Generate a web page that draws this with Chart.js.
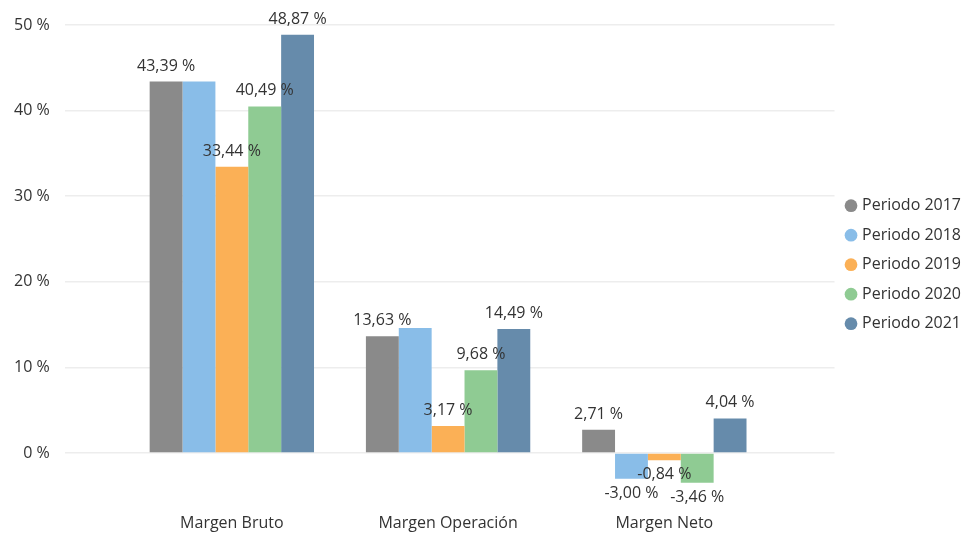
<!DOCTYPE html>
<html>
<head>
<meta charset="utf-8">
<script src="https://cdn.jsdelivr.net/npm/chart.js@4.4.1/dist/chart.umd.min.js"></script>
<style>
  html, body { margin: 0; padding: 0; background: #fff; }
  #wrap { width: 965px; height: 533px; }
</style>
</head>
<body>
<div id="wrap"><canvas id="myChart"></canvas></div>
<script>
const categories = ["Margen Bruto", "Margen Operación", "Margen Neto"];
const periods = ["Periodo 2017", "Periodo 2018", "Periodo 2019", "Periodo 2020", "Periodo 2021"];

const p2017 = [43.39, 13.63, 2.71];
const p2018 = [43.4, 14.6, -3.00];
const p2019 = [33.44, 3.17, -0.84];
const p2020 = [40.49, 9.68, -3.46];
const p2021 = [48.87, 14.49, 4.04];

const yTicks = [0, 10, 20, 30, 40, 50];

const colors = ["#8a8a8a", "#89bde8", "#fbb056", "#8fcb93", "#668bab"];
const series = [p2017, p2018, p2019, p2020, p2021];

const fontFam = '"Open Sans", sans-serif';
const textColor = "#333333";

// labels over / under bars ("2018" only shows its negative one)
const valueLabels = {
    id: 'valueLabels',
    afterDatasetsDraw(chart) {
        const ctx = chart.ctx;
        ctx.save();
        ctx.font = '16px ' + fontFam;
        ctx.fillStyle = textColor;
        ctx.textAlign = 'center';
        ctx.textBaseline = 'alphabetic';
        chart.data.datasets.forEach((ds, di) => {
            chart.getDatasetMeta(di).data.forEach((bar, i) => {
                const v = ds.data[i].y;
                if (di === 1 && v > 0) return;
                const txt = v.toFixed(2).replace('.', ',') + ' %';
                if (v >= 0) ctx.fillText(txt, bar.x, bar.y - 11);
                else ctx.fillText(txt, bar.x, bar.y + 19);
            });
        });
        ctx.restore();
    }
};

const ctx = document.getElementById('myChart').getContext("2d");

const data = {
    datasets: periods.map((p, k) => ({
        label: p,
        data: series[k].map((v, i) => ({ x: i, y: v })),
        backgroundColor: colors[k],
        borderWidth: 0,
    })),
};

const config = {
    type: 'bar',
    data: data,
    plugins: [valueLabels],
    options: {
        responsive: true,
        maintainAspectRatio: false,
        animation: false,
        categoryPercentage: 0.76,
        barPercentage: 1.0,
        layout: { padding: { left: -1, top: 25, right: -6, bottom: -9.4 } },
        plugins: {
            tooltip: { enabled: false },
            legend: {
                position: 'right',
                fullSize: false,
                labels: {
                    usePointStyle: true,
                    pointStyle: 'circle',
                    boxWidth: 6,
                    boxHeight: 9,
                    padding: 13.5,
                    color: textColor,
                    font: { family: fontFam, size: 16 },
                },
            },
        },
        scales: {
            x: {
                type: 'linear',
                offset: false,
                min: -0.773,
                max: 2.787,
                grid: { display: false, drawTicks: false },
                border: { display: false },
                afterBuildTicks: (scale) => { scale.ticks = categories.map((c, i) => ({ value: i })); },
                // category labels sit well inside the area, no side padding needed
                afterFit: (scale) => { scale.paddingLeft = 0; scale.paddingRight = 0; },
                ticks: {
                    padding: 9.4,
                    maxRotation: 0,
                    autoSkip: false,
                    color: textColor,
                    font: { family: fontFam, size: 16 },
                    callback: (v) => categories[v],
                },
            },
            y: {
                min: -6,
                max: 50,
                grid: { color: '#ededed', lineWidth: 1.5, drawTicks: false },
                border: { display: false },
                afterBuildTicks: (scale) => { scale.ticks = yTicks.map(v => ({ value: v })); },
                ticks: {
                    padding: 15,
                    color: textColor,
                    font: { family: fontFam, size: 16 },
                    callback: (v) => v + ' %',
                },
            },
        },
    },
};

const myChart = new Chart(ctx, config);
</script>
</body>
</html>
